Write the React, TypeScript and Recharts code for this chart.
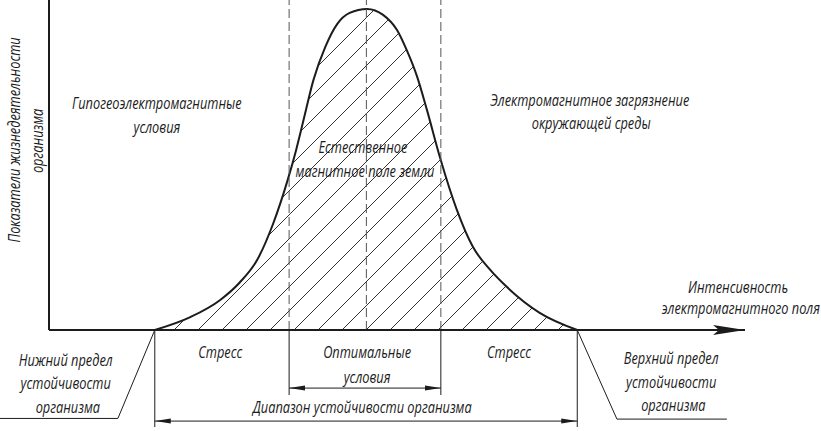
import { ComposedChart, Area, XAxis, YAxis, ReferenceLine, ReferenceDot } from "recharts"

// intensity (x) and vitality (y), both in 0..100 chart units
const intensity = [15.2, 20.3, 24.6, 27.4, 29.9, 32.2, 34.2, 35.5, 36.5, 38.0, 39.7, 41.4, 43.2, 45.7, 48.0, 50.0, 51.4, 52.9, 54.3, 56.2, 58.6, 60.9, 63.4, 65.8, 70.5, 75.9]
const vitality = [0, 3.9, 9.1, 14.4, 21.2, 32.2, 44.8, 54.5, 63, 75.8, 85.8, 92.7, 96.1, 97.3, 95.5, 90.9, 84.8, 76.7, 66.7, 52.1, 36.4, 25.2, 18.2, 13, 5.2, 0]

// zone borders on the intensity axis
const lowerLimit = 15.2
const upperLimit = 75.9
const optimumFrom = 34.5
const optimumTo = 56.3
const earthField = 45.6

const data = intensity.map((x, i) => ({ x, v: vitality[i] }))

const INK = "#1c1c1c"
const font = "'Open Sans', 'Noto Sans', sans-serif"

type Note = { text: string; x: number; y: number; angle?: number }

const notes: Note[] = [
  { text: "Показатели жизнедеятельности", x: -5.0, y: 57.6, angle: -90 },
  { text: "организма", x: -1.7, y: 57.3, angle: -90 },
  { text: "Гипогеоэлектромагнитные", x: 15.5, y: 68.8 },
  { text: "условия", x: 15.5, y: 61.5 },
  { text: "Естественное", x: 45.1, y: 55.5 },
  { text: "магнитное поле земли", x: 45.4, y: 48.2 },
  { text: "Электромагнитное загрязнение", x: 77.7, y: 69.7 },
  { text: "окружающей среды", x: 77.9, y: 62.7 },
  { text: "Интенсивность", x: 99, y: 13 },
  { text: "электромагнитного поля", x: 99.4, y: 6.7 },
  { text: "Стресс", x: 24.6, y: -6.7 },
  { text: "Оптимальные", x: 45.7, y: -6.7 },
  { text: "условия", x: 45.7, y: -14.2 },
  { text: "Стресс", x: 66.1, y: -6.7 },
  { text: "Диапазон устойчивости организма", x: 45, y: -23.3 },
  { text: "Нижний предел", x: 2.4, y: -9.1 },
  { text: "устойчивости", x: 2.4, y: -16.1 },
  { text: "организма", x: 2.7, y: -23.3 },
  { text: "Верхний предел", x: 89.4, y: -8.5 },
  { text: "устойчивости", x: 89.4, y: -15.8 },
  { text: "организма", x: 89.7, y: -22.7 },
]

type Seg = [{ x: number; y: number }, { x: number; y: number }]

const seg = (x1: number, y1: number, x2: number, y2: number): Seg => [
  { x: x1, y: y1 },
  { x: x2, y: y2 },
]

const arrowLine = (start?: string, end?: string, width = 1) => (p: any) => (
  <line
    x1={p.x1}
    y1={p.y1}
    x2={p.x2}
    y2={p.y2}
    stroke={INK}
    strokeWidth={width}
    markerStart={start}
    markerEnd={end}
  />
)

// narrow italic lettering, like drafting font
const noteShape = (text: string, angle = 0) => (p: any) => (
  <text
    transform={`translate(${p.cx},${p.cy}) rotate(${angle}) scale(0.8,1)`}
    textAnchor="middle"
    dominantBaseline="central"
    fontSize={16}
    fontStyle="italic"
    fontFamily={font}
    fill={INK}
  >
    {text}
  </text>
)

export default function App() {
  return (
    <div style={{ position: "absolute", left: 0, top: 0, background: "#fff" }}>
      <ComposedChart width={821} height={431} data={data} margin={{ top: 0, right: 76, bottom: 101, left: 49 }}>
        <defs>
          <pattern id="hatch" patternUnits="userSpaceOnUse" width="24" height="24">
            <path d="M0,24 L24,0 M-6,6 L6,-6 M18,30 L30,18" stroke="#333" strokeWidth="1" />
          </pattern>
          <marker id="axisArrow" markerUnits="userSpaceOnUse" markerWidth="32" markerHeight="10" refX="32" refY="5" orient="auto">
            <path d="M0,0 L32,5 L0,10 L6,5 z" fill={INK} />
          </marker>
          <marker id="dimArrow" markerUnits="userSpaceOnUse" markerWidth="16" markerHeight="6" refX="16" refY="3" orient="auto-start-reverse">
            <path d="M0,0.5 L16,3 L0,5.5 z" fill={INK} />
          </marker>
        </defs>
        <XAxis type="number" dataKey="x" domain={[0, 100]} hide />
        <YAxis type="number" domain={[0, 100]} hide />

        <Area
          type="monotone"
          dataKey="v"
          stroke={INK}
          strokeWidth={2}
          fill="url(#hatch)"
          fillOpacity={1}
          isAnimationActive={false}
        />

        {/* dashed zone borders */}
        {[optimumFrom, earthField, optimumTo].map((x) => (
          <ReferenceLine key={"d" + x} segment={seg(x, 0, x, 100)} stroke="#555" strokeWidth={1} strokeDasharray="9 4" ifOverflow="visible" />
        ))}

        {/* axes */}
        <ReferenceLine segment={seg(0, 0, 0, 100)} stroke={INK} strokeWidth={2} ifOverflow="visible" />
        <ReferenceLine segment={seg(0, 0, 100, 0)} ifOverflow="visible" shape={arrowLine(undefined, "url(#axisArrow)", 2)} />

        {/* extension lines */}
        {[optimumFrom, optimumTo].map((x) => (
          <ReferenceLine key={"o" + x} segment={seg(x, 0, x, -19.7)} stroke={INK} strokeWidth={1} ifOverflow="visible" />
        ))}
        {[lowerLimit, upperLimit].map((x) => (
          <ReferenceLine key={"r" + x} segment={seg(x, 0, x, -29.4)} stroke={INK} strokeWidth={1} ifOverflow="visible" />
        ))}

        {/* dimension lines */}
        <ReferenceLine segment={seg(optimumFrom, -17.6, optimumTo, -17.6)} ifOverflow="visible" shape={arrowLine("url(#dimArrow)", "url(#dimArrow)")} />
        <ReferenceLine segment={seg(lowerLimit, -27.6, upperLimit, -27.6)} ifOverflow="visible" shape={arrowLine("url(#dimArrow)", "url(#dimArrow)")} />

        {/* leader lines */}
        <ReferenceLine segment={seg(lowerLimit, 0, 9.9, -26.8)} stroke={INK} strokeWidth={1} ifOverflow="visible" />
        <ReferenceLine segment={seg(9.9, -26.8, -7.1, -26.8)} stroke={INK} strokeWidth={1} ifOverflow="visible" />
        <ReferenceLine segment={seg(upperLimit, 0, 81.6, -27)} stroke={INK} strokeWidth={1} ifOverflow="visible" />
        <ReferenceLine segment={seg(81.6, -27, 97.4, -27)} stroke={INK} strokeWidth={1} ifOverflow="visible" />

        {notes.map((n, i) => (
          <ReferenceDot
            key={"n" + i}
            x={n.x}
            y={n.y}
            r={0}
            ifOverflow="visible"
            shape={noteShape(n.text, n.angle)}
          />
        ))}
      </ComposedChart>
    </div>
  )
}
